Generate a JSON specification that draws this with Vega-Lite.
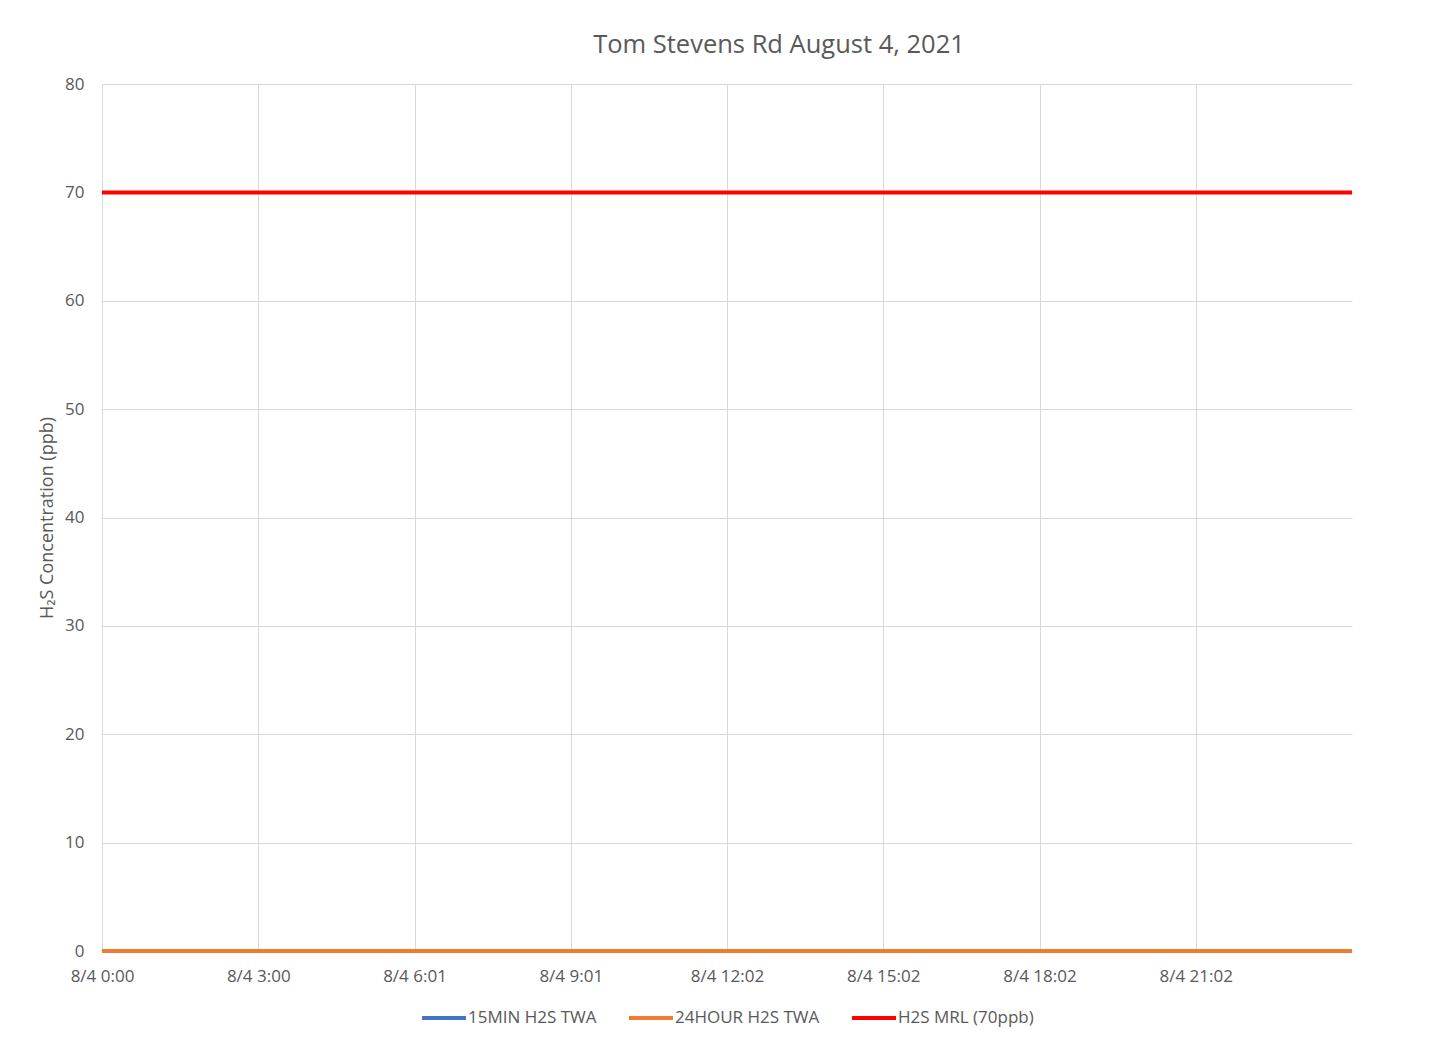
{
  "$schema": "https://vega.github.io/schema/vega-lite/v6.json",
  "width": 1250,
  "height": 867,
  "autosize": {"type": "none"},
  "padding": {"left": 102, "top": 84, "right": 95, "bottom": 91},
  "background": "white",
  "title": {
    "text": "Tom Stevens Rd August 4, 2021",
    "anchor": "middle",
    "dx": 52,
    "offset": 17,
    "font": "Open Sans",
    "fontSize": 25.5,
    "fontWeight": "normal",
    "color": "#595959"
  },
  "data": {
    "values": [
      {"i":0,"m15":0,"h24":0,"mrl":70},{"i":1,"m15":0,"h24":0,"mrl":70},{"i":2,"m15":0,"h24":0,"mrl":70},{"i":3,"m15":0,"h24":0,"mrl":70},
      {"i":4,"m15":0,"h24":0,"mrl":70},{"i":5,"m15":0,"h24":0,"mrl":70},{"i":6,"m15":0,"h24":0,"mrl":70},{"i":7,"m15":0,"h24":0,"mrl":70},
      {"i":8,"m15":0,"h24":0,"mrl":70},{"i":9,"m15":0,"h24":0,"mrl":70},{"i":10,"m15":0,"h24":0,"mrl":70},{"i":11,"m15":0,"h24":0,"mrl":70},
      {"i":12,"m15":0,"h24":0,"mrl":70},{"i":13,"m15":0,"h24":0,"mrl":70},{"i":14,"m15":0,"h24":0,"mrl":70},{"i":15,"m15":0,"h24":0,"mrl":70},
      {"i":16,"m15":0,"h24":0,"mrl":70},{"i":17,"m15":0,"h24":0,"mrl":70},{"i":18,"m15":0,"h24":0,"mrl":70},{"i":19,"m15":0,"h24":0,"mrl":70},
      {"i":20,"m15":0,"h24":0,"mrl":70},{"i":21,"m15":0,"h24":0,"mrl":70},{"i":22,"m15":0,"h24":0,"mrl":70},{"i":23,"m15":0,"h24":0,"mrl":70},
      {"i":24,"m15":0,"h24":0,"mrl":70},{"i":25,"m15":0,"h24":0,"mrl":70},{"i":26,"m15":0,"h24":0,"mrl":70},{"i":27,"m15":0,"h24":0,"mrl":70},
      {"i":28,"m15":0,"h24":0,"mrl":70},{"i":29,"m15":0,"h24":0,"mrl":70},{"i":30,"m15":0,"h24":0,"mrl":70},{"i":31,"m15":0,"h24":0,"mrl":70},
      {"i":32,"m15":0,"h24":0,"mrl":70},{"i":33,"m15":0,"h24":0,"mrl":70},{"i":34,"m15":0,"h24":0,"mrl":70},{"i":35,"m15":0,"h24":0,"mrl":70},
      {"i":36,"m15":0,"h24":0,"mrl":70},{"i":37,"m15":0,"h24":0,"mrl":70},{"i":38,"m15":0,"h24":0,"mrl":70},{"i":39,"m15":0,"h24":0,"mrl":70},
      {"i":40,"m15":0,"h24":0,"mrl":70},{"i":41,"m15":0,"h24":0,"mrl":70},{"i":42,"m15":0,"h24":0,"mrl":70},{"i":43,"m15":0,"h24":0,"mrl":70},
      {"i":44,"m15":0,"h24":0,"mrl":70},{"i":45,"m15":0,"h24":0,"mrl":70},{"i":46,"m15":0,"h24":0,"mrl":70},{"i":47,"m15":0,"h24":0,"mrl":70},
      {"i":48,"m15":0,"h24":0,"mrl":70},{"i":49,"m15":0,"h24":0,"mrl":70},{"i":50,"m15":0,"h24":0,"mrl":70},{"i":51,"m15":0,"h24":0,"mrl":70},
      {"i":52,"m15":0,"h24":0,"mrl":70},{"i":53,"m15":0,"h24":0,"mrl":70},{"i":54,"m15":0,"h24":0,"mrl":70},{"i":55,"m15":0,"h24":0,"mrl":70},
      {"i":56,"m15":0,"h24":0,"mrl":70},{"i":57,"m15":0,"h24":0,"mrl":70},{"i":58,"m15":0,"h24":0,"mrl":70},{"i":59,"m15":0,"h24":0,"mrl":70},
      {"i":60,"m15":0,"h24":0,"mrl":70},{"i":61,"m15":0,"h24":0,"mrl":70},{"i":62,"m15":0,"h24":0,"mrl":70},{"i":63,"m15":0,"h24":0,"mrl":70},
      {"i":64,"m15":0,"h24":0,"mrl":70},{"i":65,"m15":0,"h24":0,"mrl":70},{"i":66,"m15":0,"h24":0,"mrl":70},{"i":67,"m15":0,"h24":0,"mrl":70},
      {"i":68,"m15":0,"h24":0,"mrl":70},{"i":69,"m15":0,"h24":0,"mrl":70},{"i":70,"m15":0,"h24":0,"mrl":70},{"i":71,"m15":0,"h24":0,"mrl":70},
      {"i":72,"m15":0,"h24":0,"mrl":70},{"i":73,"m15":0,"h24":0,"mrl":70},{"i":74,"m15":0,"h24":0,"mrl":70},{"i":75,"m15":0,"h24":0,"mrl":70},
      {"i":76,"m15":0,"h24":0,"mrl":70},{"i":77,"m15":0,"h24":0,"mrl":70},{"i":78,"m15":0,"h24":0,"mrl":70},{"i":79,"m15":0,"h24":0,"mrl":70},
      {"i":80,"m15":0,"h24":0,"mrl":70},{"i":81,"m15":0,"h24":0,"mrl":70},{"i":82,"m15":0,"h24":0,"mrl":70},{"i":83,"m15":0,"h24":0,"mrl":70},
      {"i":84,"m15":0,"h24":0,"mrl":70},{"i":85,"m15":0,"h24":0,"mrl":70},{"i":86,"m15":0,"h24":0,"mrl":70},{"i":87,"m15":0,"h24":0,"mrl":70},
      {"i":88,"m15":0,"h24":0,"mrl":70},{"i":89,"m15":0,"h24":0,"mrl":70},{"i":90,"m15":0,"h24":0,"mrl":70},{"i":91,"m15":0,"h24":0,"mrl":70},
      {"i":92,"m15":0,"h24":0,"mrl":70},{"i":93,"m15":0,"h24":0,"mrl":70},{"i":94,"m15":0,"h24":0,"mrl":70},{"i":95,"m15":0,"h24":0,"mrl":70},
      {"i":96,"m15":0,"h24":0,"mrl":70}
    ]
  },
  "transform": [
    {"fold": ["m15", "h24", "mrl"], "as": ["key", "value"]},
    {"lookup": "key", "from": {"data": {"values": [
      {"key": "m15", "series": "15MIN H2S TWA", "ord": 0},
      {"key": "h24", "series": "24HOUR H2S TWA", "ord": 1},
      {"key": "mrl", "series": "H2S MRL (70ppb)", "ord": 2}
    ]}, "key": "key", "fields": ["series", "ord"]}}
  ],
  "mark": {"type": "line", "strokeWidth": 4, "strokeCap": "butt"},
  "encoding": {
    "x": {
      "field": "i",
      "type": "quantitative",
      "scale": {"domain": [0, 96], "nice": false, "zero": false},
      "axis": {
        "title": null,
        "values": [0, 12, 24, 36, 48, 60, 72, 84],
        "labelExpr": "['8/4 0:00','8/4 3:00','8/4 6:01','8/4 9:01','8/4 12:02','8/4 15:02','8/4 18:02','8/4 21:02'][round(datum.value/12)]",
        "domain": false,
        "ticks": false,
        "grid": true,
        "gridColor": "#d9d9d9",
        "gridWidth": 1,
        "labelPadding": 17,
        "labelFont": "Open Sans",
        "labelFontSize": 17,
        "labelColor": "#595959",
        "labelFlush": false
      }
    },
    "y": {
      "field": "value",
      "type": "quantitative",
      "scale": {"domain": [0, 80], "nice": false},
      "axis": {
        "title": "H₂S Concentration (ppb)",
        "values": [0, 10, 20, 30, 40, 50, 60, 70, 80],
        "domain": false,
        "ticks": false,
        "grid": true,
        "gridColor": "#d9d9d9",
        "gridWidth": 1,
        "labelPadding": 18,
        "labelFont": "Open Sans",
        "labelFontSize": 17,
        "labelColor": "#595959",
        "titleFont": "Open Sans",
        "titleFontSize": 18,
        "titleFontWeight": "normal",
        "titleColor": "#595959",
        "titlePadding": 8
      }
    },
    "color": {
      "field": "series",
      "type": "nominal",
      "scale": {
        "domain": ["15MIN H2S TWA", "24HOUR H2S TWA", "H2S MRL (70ppb)"],
        "range": ["#4472C4", "#ED7D31", "#FF0000"]
      },
      "legend": {
        "title": null,
        "orient": "bottom",
        "direction": "horizontal",
        "symbolType": "stroke",
        "symbolSize": 1936,
        "symbolStrokeWidth": 4,
        "labelFont": "Open Sans",
        "labelFontSize": 17,
        "labelColor": "#595959",
        "labelOffset": 0,
        "columnPadding": 24,
        "offset": 10
      }
    },
    "order": {"field": "ord", "type": "quantitative"}
  },
  "config": {
    "view": {"stroke": null},
    "legend": {"layout": {"bottom": {"anchor": "middle"}}}
  }
}
